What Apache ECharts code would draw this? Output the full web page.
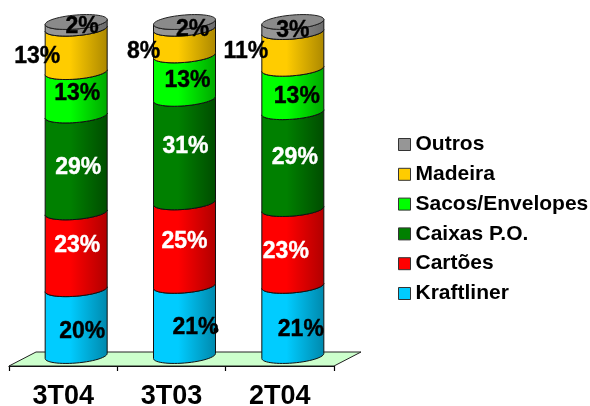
<!DOCTYPE html>
<html><head><meta charset="utf-8">
<style>html,body{margin:0;padding:0;background:#fff}#c{width:590px;height:406px}</style>
<script src="https://cdn.jsdelivr.net/npm/echarts@6/dist/echarts.min.js"></script>
</head><body><div id="c"></div>
<script>
const categories = ['3T04','3T03','2T04'];
const kraftliner = [20,21,21];
const cartoes = [23,25,23];
const caixas = [29,31,29];
const sacos = [13,13,13];
const madeira = [13,8,11];
const outros = [2,2,3];
const seriesNames = ['Kraftliner','Cartões','Caixas P.O.','Sacos/Envelopes','Madeira','Outros'];
const seriesValues = [kraftliner,cartoes,caixas,sacos,madeira,outros];
const legendOrder = ['Outros','Madeira','Sacos/Envelopes','Caixas P.O.','Cartões','Kraftliner'];
const colors = ['#00CCFF','#FF0000','#008000','#00FF00','#FFCC00','#969696'];
const darks = ['#0088AC','#B00000','#004C00','#00A800','#AC8800','#6A6A6A'];
const labelColors = ['#000','#fff','#fff','#000','#000','#000'];
// label displacement from segment centre, [dx,dy] per series, per category
const labelNudge = [
 [[6,9],[11,7],[8,9]],
 [[1,-5],[0,-2],[-7,4]],
 [[2,4],[1,-4],[2,-3]],
 [[1,0],[3,4],[4,6]],
 [[-39,6],[-41,10],[-47,1]],
 [[6,1],[8,4],[0,4]]
];
const depthX = 13, rx = 31, ry = 7, tilt = 2.5;
const arc = (cx,cy,from,to,n=28)=>{const p=[];for(let i=0;i<=n;i++){const a=from+(to-from)*i/n;
  p.push([cx+rx*Math.cos(a),cy+ry*Math.sin(a)-tilt*Math.cos(a)]);}return p;};
const chart = echarts.init(document.getElementById('c'),null,{renderer:'canvas'});
const series = seriesNames.map((name,si)=>{
  const data = categories.map((c,ci)=>{
    let start=0; for(let k=0;k<si;k++) start+=seriesValues[k][ci];
    return [ci,start,start+seriesValues[si][ci],seriesValues[si][ci]];
  });
  const isTop = si===seriesNames.length-1;
  return {
    name,type:'custom',coordinateSystem:'cartesian2d',z:3,
    itemStyle:{color:colors[si]},
    encode:{x:0,y:[1,2]},data,
    renderItem(params,api){
      const ci=api.value(0);
      const base=api.coord([ci,api.value(1)]), top=api.coord([ci,api.value(2)]);
      const cx=base[0]+depthX;
      const fill=new echarts.graphic.LinearGradient(0,0,1,0,[
        {offset:0,color:colors[si]},{offset:.4,color:colors[si]},{offset:1,color:darks[si]}]);
      const pts=arc(cx,top[1],Math.PI,0).concat(arc(cx,base[1],0,Math.PI));
      const children=[{type:'polygon',shape:{points:pts},style:{fill,stroke:'#111',lineWidth:1},z2:si+1}];
      if(isTop){
        children.push({type:'polygon',shape:{points:arc(cx,top[1],0,2*Math.PI,56)},
          style:{fill:'#8a8a8a',stroke:'#222',lineWidth:1},z2:si+2});
      }
      const [dx,dy]=labelNudge[si][ci];
      children.push({type:'text',z2:50,style:{
        x:cx+dx,y:(base[1]+top[1])/2+dy,text:api.value(3)+'%',
        align:'center',verticalAlign:'middle',
        font:'bold 23px "Liberation Sans",Arial,sans-serif',fill:labelColors[si],
        stroke:labelColors[si],lineWidth:0.4}});
      return {type:'group',children};
    }
  };
});
chart.setOption({
  animation:false,backgroundColor:'#fff',
  grid:{left:9,width:325,top:22,height:334,outerBoundsMode:'none'},
  xAxis:{type:'category',data:categories,position:'bottom',offset:10,
    axisLine:{show:true,onZero:false,lineStyle:{color:'#000',width:1.2}},
    axisTick:{show:true,length:5,lineStyle:{color:'#000',width:1.2}},
    axisLabel:{color:'#000',fontFamily:'"Liberation Sans",Arial,sans-serif',fontWeight:'bold',fontSize:27,margin:17}},
  yAxis:{type:'value',min:0,max:100,show:false},
  legend:{orient:'vertical',left:398,top:134,padding:0,itemWidth:12,itemHeight:12,itemGap:8.8,
    data:legendOrder.map(n=>({name:n,icon:'rect',
      itemStyle:{color:colors[seriesNames.indexOf(n)],borderColor:'#333',borderWidth:1}})),
    textStyle:{color:'#000',fontFamily:'"Liberation Sans",Arial,sans-serif',fontWeight:'bold',fontSize:21,lineHeight:20},
    selectedMode:false},
  graphic:[
    {type:'polygon',z:1,shape:{points:[[9,366],[334,366],[361,352],[36,352]]},
     style:{fill:'#CCFFCC',stroke:'#222',lineWidth:1}},
    {type:'circle',z:10,shape:{cx:216,cy:330,r:2.5},style:{fill:'#000'}}
  ],
  series
});
</script></body></html>
